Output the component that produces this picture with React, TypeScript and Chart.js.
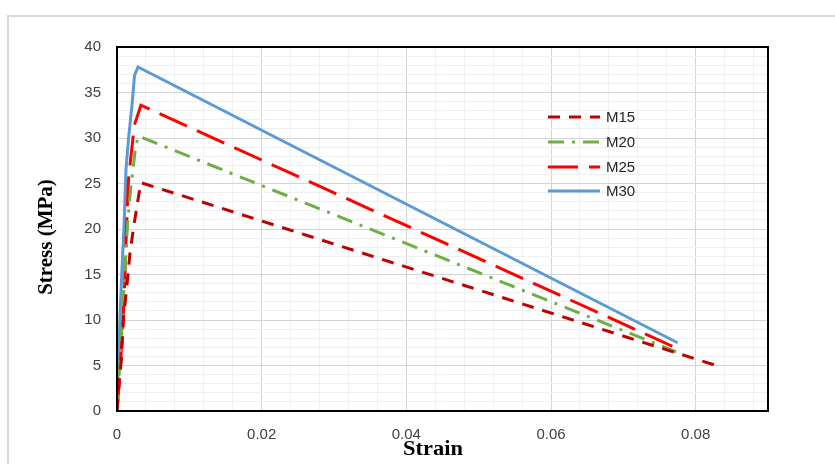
import React, { useEffect, useRef } from 'react';
import { Chart, registerables } from 'chart.js';

Chart.register(...registerables);

// ---- data ----
const m15Strain = [0, 0.0003, 0.0006, 0.0009, 0.0014, 0.0018, 0.0023, 0.0029, 0.0033, 0.0836];
const m15Stress = [0, 3.2, 5.6, 10.2, 14.0, 17.4, 20.2, 23.2, 25.1, 4.8];

const m20Strain = [0, 0.0004, 0.0008, 0.00115, 0.0015, 0.0019, 0.0022, 0.0026, 0.003, 0.0773];
const m20Stress = [0, 5.5, 11, 16.2, 21, 24.5, 26.5, 29.2, 30.2, 6.5];

const m25Strain = [0, 0.0004, 0.0008, 0.00106, 0.00125, 0.0014, 0.0016, 0.002, 0.0024, 0.0033, 0.0771];
const m25Stress = [0, 4, 9.5, 14, 18.5, 22, 25.5, 28.5, 31.4, 33.6, 7.0];

const m30Strain = [0, 0.0002, 0.0004, 0.0006, 0.00097, 0.00124, 0.0016, 0.00207, 0.00243, 0.0029, 0.0775];
const m30Stress = [0, 5, 10, 14, 20.3, 26.5, 30, 33.6, 36.9, 37.8, 7.5];

const seriesNames = ['M15', 'M20', 'M25', 'M30'];
const seriesColors = ['#C00000', '#70AD47', '#FF0000', '#5B9BD5'];
const seriesDashes = [[12, 9], [16, 8, 3, 8], [30, 11], []];

const xMajorTicks = [0, 0.02, 0.04, 0.06, 0.08];
const xTickLabels = ['0', '0.02', '0.04', '0.06', '0.08'];
const yMajorTicks = [0, 5, 10, 15, 20, 25, 30, 35, 40];
const yTickLabels = ['0', '5', '10', '15', '20', '25', '30', '35', '40'];
const xMax = 0.09;
const yMax = 40;
const xMinorStep = 0.004;
const yMinorStep = 1;

const xTitle = 'Strain';
const yTitle = 'Stress (MPa)';

function pts(xs: number[], ys: number[]) {
  return xs.map((x, i) => ({ x, y: ys[i] }));
}

function minorValues(max: number, step: number) {
  const out: number[] = [];
  for (let i = 0; i * step <= max + 1e-9; i++) {
    const v = Math.round(i * step * 1e6) / 1e6;
    if (v < max - 1e-9) out.push(v);
  }
  return out;
}

function majorIndex(v: number, majors: number[]) {
  return majors.findIndex((m) => Math.abs(m - v) < 1e-7);
}

const frameAndText = {
  id: 'frameAndText',
  beforeDraw(chart: any) {
    const ctx = chart.ctx;
    ctx.save();
    ctx.fillStyle = '#ffffff';
    ctx.fillRect(0, 0, chart.width, chart.height);
    ctx.strokeStyle = '#d9d9d9';
    ctx.lineWidth = 2;
    ctx.strokeRect(8, 16, 3000, 3000);
    ctx.restore();
  },
  afterDatasetsDraw(chart: any) {
    const { ctx, chartArea } = chart;
    ctx.save();
    ctx.strokeStyle = '#000000';
    ctx.lineWidth = 2;
    ctx.strokeRect(chartArea.left, chartArea.top, chartArea.right - chartArea.left, chartArea.bottom - chartArea.top);
    ctx.restore();
  },
  afterDraw(chart: any) {
    const ctx = chart.ctx;
    ctx.save();
    // axis titles
    ctx.fillStyle = '#000000';
    ctx.font = 'bold 21px "Liberation Serif", "Times New Roman", serif';
    ctx.textAlign = 'center';
    ctx.textBaseline = 'middle';
    ctx.save();
    ctx.translate(433, 450);
    ctx.scale(1.07, 1);
    ctx.fillText(xTitle, 0, 0);
    ctx.restore();
    ctx.save();
    ctx.translate(47, 237);
    ctx.rotate(-Math.PI / 2);
    ctx.fillText(yTitle, 0, 0);
    ctx.restore();

    // legend
    const ys = [117, 142, 167, 191];
    chart.data.datasets.forEach((ds: any, i: number) => {
      const y = ys[i];
      ctx.save();
      ctx.strokeStyle = ds.borderColor;
      ctx.lineWidth = 3;
      ctx.setLineDash(ds.borderDash || []);
      ctx.beginPath();
      ctx.moveTo(548, y);
      ctx.lineTo(600, y);
      ctx.stroke();
      ctx.restore();
      ctx.fillStyle = '#262626';
      ctx.font = '15px "Liberation Sans", Arial, sans-serif';
      ctx.textAlign = 'left';
      ctx.textBaseline = 'middle';
      ctx.fillText(ds.label, 606, y + 1);
    });
    ctx.restore();
  },
};

export default function App() {
  const ref = useRef<HTMLCanvasElement | null>(null);

  useEffect(() => {
    const canvas = ref.current;
    if (!canvas) return;
    const seriesData = [
      pts(m15Strain, m15Stress),
      pts(m20Strain, m20Stress),
      pts(m25Strain, m25Stress),
      pts(m30Strain, m30Stress),
    ];
    const chart = new Chart(canvas, {
      type: 'line',
      data: {
        datasets: seriesNames.map((name, i) => ({
          label: name,
          data: seriesData[i],
          borderColor: seriesColors[i],
          backgroundColor: seriesColors[i],
          borderDash: seriesDashes[i],
          borderWidth: 3,
          pointRadius: 0,
          tension: 0,
          fill: false,
        })),
      },
      options: {
        animation: false,
        responsive: false,
        devicePixelRatio: 1,
        layout: { padding: { left: 0, top: 47, right: 67, bottom: 0 } },
        plugins: {
          legend: { display: false },
          tooltip: { enabled: false },
        },
        scales: {
          x: {
            type: 'linear',
            min: 0,
            max: xMax,
            afterBuildTicks: (s: any) => {
              s.ticks = minorValues(xMax, xMinorStep).map((v) => ({ value: v }));
            },
            afterFit: (s: any) => {
              s.height = 53;
            },
            ticks: {
              autoSkip: false,
              maxRotation: 0,
              minRotation: 0,
              padding: 15,
              color: '#404040',
              font: { family: '"Liberation Sans", Arial, sans-serif', size: 15 },
              callback: (v: any) => {
                const k = majorIndex(Number(v), xMajorTicks);
                return k >= 0 ? xTickLabels[k] : '';
              },
            },
            grid: {
              drawTicks: false,
              lineWidth: 1,
              color: (c: any) => (c.tick && majorIndex(c.tick.value, xMajorTicks) >= 0 ? '#d4d4d4' : '#efefef'),
            },
            border: { display: false },
          },
          y: {
            type: 'linear',
            min: 0,
            max: yMax,
            afterBuildTicks: (s: any) => {
              s.ticks = minorValues(yMax, yMinorStep).map((v) => ({ value: v }));
              s.ticks.push({ value: yMax });
            },
            afterFit: (s: any) => {
              s.width = 117;
            },
            ticks: {
              autoSkip: false,
              padding: 16,
              color: '#404040',
              font: { family: '"Liberation Sans", Arial, sans-serif', size: 15 },
              callback: (v: any) => {
                const k = majorIndex(Number(v), yMajorTicks);
                return k >= 0 ? yTickLabels[k] : '';
              },
            },
            grid: {
              drawTicks: false,
              lineWidth: 1,
              color: (c: any) => (c.tick && majorIndex(c.tick.value, yMajorTicks) >= 0 ? '#d4d4d4' : '#efefef'),
            },
            border: { display: false },
          },
        },
      },
      plugins: [frameAndText],
    } as any);
    return () => chart.destroy();
  }, []);

  return (
    <div style={{ position: 'fixed', left: 0, top: 0, width: 835, height: 464, overflow: 'hidden', background: '#fff' }}>
      <canvas ref={ref} width={835} height={464} style={{ display: 'block', width: 835, height: 464 }} />
    </div>
  );
}
